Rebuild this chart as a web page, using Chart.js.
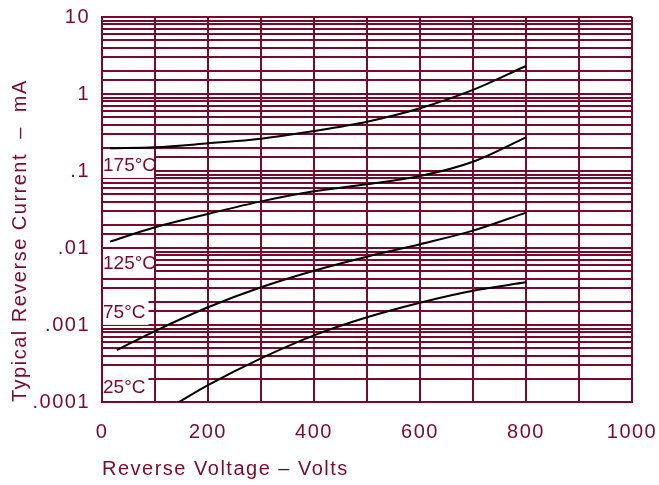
<!DOCTYPE html>
<html>
<head>
<meta charset="utf-8">
<script src="https://cdn.jsdelivr.net/npm/chart.js@4/dist/chart.umd.min.js"></script>
<style>
  html, body { margin: 0; padding: 0; background: #ffffff; }
  #wrap { width: 659px; height: 485px; }
</style>
</head>
<body>
<div id="wrap"><canvas id="c" width="659" height="485"></canvas></div>
<script>
// Reverse voltage (V) sample points for each temperature curve
const volts175 = [15, 100, 200, 300, 400, 500, 600, 700, 800];
const amps175  = [0.197, 0.203, 0.229, 0.263, 0.330, 0.436, 0.652, 1.13, 2.31];

const volts125 = [15, 100, 200, 300, 400, 500, 600, 700, 800];
const amps125  = [0.0121, 0.0186, 0.0277, 0.0403, 0.0545, 0.0672, 0.0861, 0.132, 0.274];

const volts75 = [28, 100, 200, 300, 400, 500, 600, 700, 800];
const amps75  = [0.000473, 0.000835, 0.00170, 0.00309, 0.00507, 0.00771, 0.0112, 0.0168, 0.0288];

const volts25 = [145, 200, 300, 400, 500, 600, 700, 800];
const amps25  = [0.0001, 0.000166, 0.000369, 0.000734, 0.00126, 0.00195, 0.00279, 0.00358];

// Axis tick labels
const xTickValues = [0, 200, 400, 600, 800, 1000];
const yDecades = [0.0001, 0.001, 0.01, 0.1, 1, 10];
const yTickLabels = ['.0001', '.001', '.01', '.1', '1', '10'];

// Curve names, written in the first column next to each curve
const curveNames = ['175°C', '125°C', '75°C', '25°C'];
const curveNameLevels = [0.12, 0.0064, 0.00148, 0.000157];

const MAROON = '#7a0a2c';
const FONT = { family: '"Liberation Sans", Arial, sans-serif', size: 20 };

function pts(xs, ys) { return xs.map((x, i) => ({ x: x, y: ys[i] })); }

function curve(xs, ys) {
  return {
    data: pts(xs, ys),
    borderColor: '#000000',
    borderWidth: 2,
    pointRadius: 0,
    fill: false,
    cubicInterpolationMode: 'monotone'
  };
}

// Slightly wider letter spacing for axis text
const spacingPlugin = {
  id: 'spacing',
  beforeUpdate(chart) { chart.ctx.letterSpacing = '1.5px'; },
  beforeDraw(chart) { chart.ctx.letterSpacing = '1.5px'; }
};

// Temperature names on white boxes in the first grid column
const curveNamePlugin = {
  id: 'curveNames',
  afterDatasetsDraw(chart) {
    const { ctx, scales } = chart;
    const x0 = scales.x.getPixelForValue(0);
    const x1 = scales.x.getPixelForValue(100);
    ctx.save();
    ctx.letterSpacing = '0px';
    ctx.font = '19px ' + FONT.family;
    ctx.textBaseline = 'middle';
    ctx.textAlign = 'left';
    curveNames.forEach((name, i) => {
      const yc = scales.y.getPixelForValue(curveNameLevels[i]);
      const w = ctx.measureText(name).width;
      ctx.fillStyle = '#ffffff';
      ctx.fillRect(x0 + 1, yc - 12, Math.min(w + 3, x1 - x0 - 2), 25);
      ctx.fillStyle = MAROON;
      ctx.fillText(name, x0 + 1, yc + 1);
    });
    ctx.restore();
  }
};

new Chart(document.getElementById('c'), {
  type: 'line',
  data: {
    datasets: [
      curve(volts175, amps175),
      curve(volts125, amps125),
      curve(volts75, amps75),
      curve(volts25, amps25)
    ]
  },
  options: {
    responsive: false,
    animation: false,
    devicePixelRatio: 1,
    layout: { padding: { top: 17, right: 27, left: 0, bottom: 0 } },
    plugins: { legend: { display: false }, tooltip: { enabled: false } },
    scales: {
      x: {
        type: 'linear',
        min: 0,
        max: 1000,
        afterFit(scale) {
          scale.height = 83;
          scale.paddingLeft = 0;
          scale.paddingRight = 0;
        },
        grid: { color: MAROON, lineWidth: 2, drawTicks: false },
        border: { color: MAROON, width: 2 },
        ticks: {
          stepSize: 100,
          autoSkip: false,
          maxRotation: 0,
          padding: 18,
          color: MAROON,
          font: FONT,
          callback: (v) => xTickValues.includes(v) ? String(v) : ''
        },
        title: {
          display: true,
          text: 'Reverse Voltage – Volts',
          align: 'start',
          color: MAROON,
          font: FONT,
          padding: { top: 0, bottom: 4 }
        }
      },
      y: {
        type: 'logarithmic',
        min: 0.0001,
        max: 10,
        afterFit(scale) {
          scale.width = 102;
          scale.paddingTop = 0;
          scale.paddingBottom = 0;
        },
        grid: { color: MAROON, lineWidth: 2, drawTicks: false },
        border: { color: MAROON, width: 2 },
        ticks: {
          autoSkip: false,
          padding: 12,
          color: MAROON,
          font: FONT,
          callback: (v) => {
            const e = Math.log10(v);
            if (Math.abs(e - Math.round(e)) > 1e-9) return '';
            const k = yDecades.findIndex(d => Math.abs(Math.log10(d) - e) < 1e-9);
            return k >= 0 ? yTickLabels[k] : '';
          }
        },
        title: {
          display: true,
          text: 'Typical Reverse Current  –  mA',
          align: 'start',
          color: MAROON,
          font: FONT,
          padding: { top: 8, bottom: 0 }
        }
      }
    }
  },
  plugins: [spacingPlugin, curveNamePlugin]
});
</script>
</body>
</html>
